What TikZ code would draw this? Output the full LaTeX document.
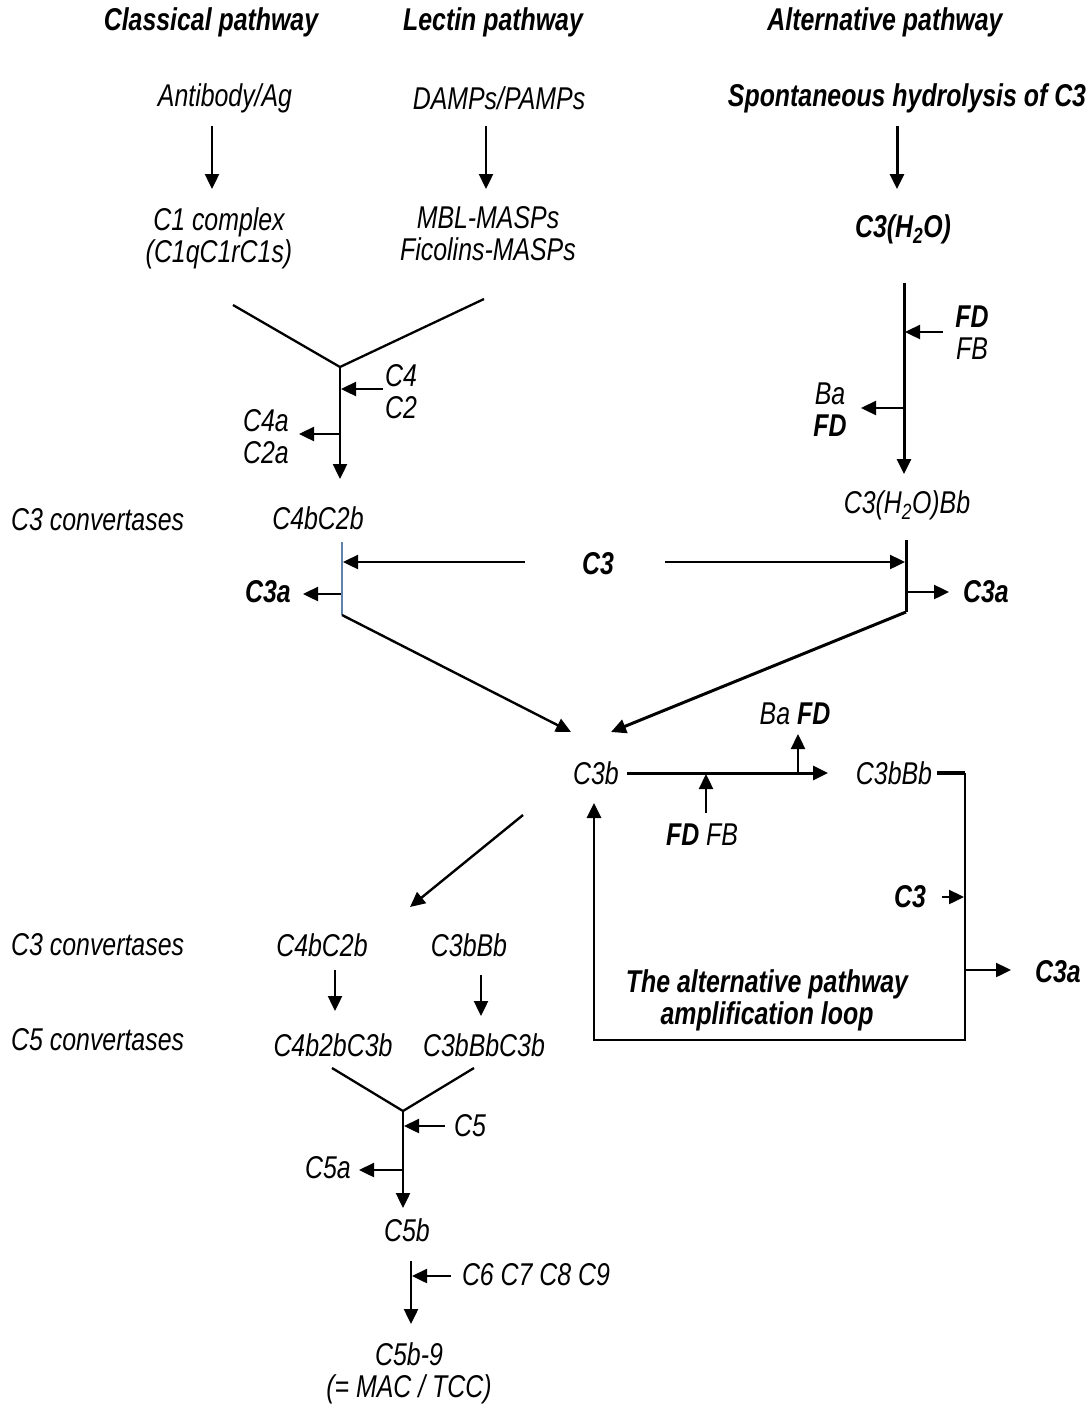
\documentclass[tikz,border=0pt]{standalone}
\usepackage{fontspec}
\setmainfont{Liberation Sans}[FakeStretch=0.79]
\usetikzlibrary{arrows.meta}
\newcommand\fsz{\fontsize{31.5}{32}\selectfont}
\begin{document}
\begin{tikzpicture}[x=1pt,y=-1pt,
  every node/.style={font=\fsz\itshape, inner sep=0pt, align=center},
  bnode/.style={font=\fsz\bfseries\itshape},
  lnode/.style={anchor=west},
  ln/.style={line width=2.3pt},
  tk/.style={line width=3pt},
  arr/.style={line width=2.4pt,-{Triangle[length=15pt,width=14pt]}},
  tarr/.style={line width=3pt,-{Triangle[length=15pt,width=14pt]}}]
\useasboundingbox (0,0) rectangle (1091,1405);
% headings
\node[bnode] (hcl) at (211,22) {Classical pathway};
\node[bnode] (hle) at (493,22) {Lectin pathway};
\node[bnode] (hal) at (885,22) {Alternative pathway};
% triggers
\node (ab) at (225,98) {Antibody/Ag};
\node (damp) at (499,98) {DAMPs/PAMPs};
\node[bnode] (spont) at (907,98) {Spontaneous hydrolysis of C3};
\node (c1) at (219,238) {C1 complex\\(C1qC1rC1s)};
\node (mbl) at (488,234) {MBL-MASPs\\Ficolins-MASPs};
\node[bnode] (c3h2o) at (903,229) {C3(H\textsubscript{2}O)};
\coordinate (a1s) at (212,126); \coordinate (a1e) at (212,189);
\coordinate (a2s) at (486,126); \coordinate (a2e) at (486,189);
\coordinate (a3s) at (897,126); \coordinate (a3e) at (897,189);
\draw[arr] (a1s) -- (a1e);
\draw[arr] (a2s) -- (a2e);
\draw[tarr] (a3s) -- (a3e);
% classical/lectin Y
\coordinate (yl) at (233,305); \coordinate (yr) at (484,299);
\coordinate (yj) at (340,367); \coordinate (yb) at (340,479);
\draw[ln] (yl) -- (yj) -- (yr);
\draw[arr] (yj) -- (yb);
\node (c4c2) at (401,392) {C4\\C2};
\coordinate (c4s) at (383,389); \coordinate (c4e) at (341,389);
\draw[arr] (c4s) -- (c4e);
\node (c4a) at (266,437) {C4a\\C2a};
\coordinate (c4as) at (340,434); \coordinate (c4ae) at (299,434);
\draw[arr] (c4as) -- (c4ae);
\node (c4bc2b) at (318,518) {C4bC2b};
\node[lnode] (conv1) at (11,520) {C3 convertases};
% C3 cleavage
\coordinate (bl1) at (342,542); \coordinate (bl2) at (342,615);
\draw[line width=1.8pt, draw={rgb,255:red,95;green,130;blue,170}] (bl1) -- (bl2);
\node[bnode] (c3m) at (598,564) {C3};
\coordinate (c3ml) at (525,562); \coordinate (c3mle) at (343,562);
\draw[arr] (c3ml) -- (c3mle);
\node[bnode] (c3aL) at (268,592) {C3a};
\coordinate (c3aLs) at (341,594); \coordinate (c3aLe) at (303,594);
\draw[arr] (c3aLs) -- (c3aLe);
\coordinate (c3mr) at (665,562); \coordinate (c3mre) at (905,562);
\draw[arr] (c3mr) -- (c3mre);
% alternative vertical
\coordinate (av1) at (904,283); \coordinate (av2) at (904,474);
\draw[tarr] (av1) -- (av2);
\node (fdfb) at (972,333) {\textbf{FD}\\FB};
\coordinate (fds) at (943,332); \coordinate (fde) at (905,332);
\draw[arr] (fds) -- (fde);
\node (bafd) at (830,410) {Ba\\\textbf{FD}};
\coordinate (bas) at (903,408); \coordinate (bae) at (861,408);
\draw[arr] (bas) -- (bae);
\node (c3h2obb) at (907,505) {C3(H\textsubscript{2}O)Bb};
\coordinate (rv1) at (906,540); \coordinate (rv2) at (906,612);
\draw[tk] (rv1) -- (rv2);
\node[bnode] (c3aR) at (986,592) {C3a};
\coordinate (c3aRs) at (907,592); \coordinate (c3aRe) at (949,592);
\draw[arr] (c3aRs) -- (c3aRe);
% C3b
\node (c3b) at (596,773) {C3b};
\coordinate (dlt) at (571,732); \coordinate (drt) at (611,732);
\draw[arr] (bl2) -- (dlt);
\draw[tarr] (rv2) -- (drt);
% amplification loop
\node (c3bbb) at (894,773) {C3bBb};
\coordinate (h1) at (627,773); \coordinate (h2) at (828,773);
\draw[tarr] (h1) -- (h2);
\node (bafd2) at (795,714) {Ba \textbf{FD}};
\coordinate (u1) at (798,773); \coordinate (u1e) at (798,734);
\draw[arr] (u1) -- (u1e);
\node (fdfb2) at (702,835) {\textbf{FD} FB};
\coordinate (u2) at (706,813); \coordinate (u2e) at (706,774);
\draw[arr] (u2) -- (u2e);
\coordinate (lp0) at (937,773); \coordinate (lp1) at (965,773);
\coordinate (lp2) at (965,1040); \coordinate (lp3) at (594,1040);
\coordinate (lp4) at (594,803);
\draw[line width=4.5pt] (lp0) -- (lp1);
\draw[line width=2.8pt,-{Triangle[length=15pt,width=14pt]}] (lp1) -- (lp2) -- (lp3) -- (lp4);
\node[bnode] (c3L) at (910,897) {C3};
\coordinate (c3Ls) at (942,897); \coordinate (c3Le) at (964,897);
\draw[arr] (c3Ls) -- (c3Le);
\node[bnode] (c3aL2) at (1058,972) {C3a};
\coordinate (c3aL2s) at (966,970); \coordinate (c3aL2e) at (1011,970);
\draw[arr] (c3aL2s) -- (c3aL2e);
\node[bnode] (loop) at (767,1000) {The alternative pathway\\amplification loop};
% C5 part
\coordinate (d1) at (523,815); \coordinate (d1e) at (410,907);
\draw[arr] (d1) -- (d1e);
\node[lnode] (conv2) at (11,945) {C3 convertases};
\node (c4bc2b2) at (322,945) {C4bC2b};
\node (c3bbb2) at (469,945) {C3bBb};
\coordinate (v1) at (335,970); \coordinate (v1e) at (335,1011);
\coordinate (v2) at (481,975); \coordinate (v2e) at (481,1016);
\draw[arr] (v1) -- (v1e);
\draw[arr] (v2) -- (v2e);
\node[lnode] (conv3) at (11,1040) {C5 convertases};
\node (c5c1) at (333,1045) {C4b2bC3b};
\node (c5c2) at (484,1045) {C3bBbC3b};
\coordinate (zl) at (332,1068); \coordinate (zr) at (474,1068);
\coordinate (zj) at (403,1111); \coordinate (zb) at (403,1208);
\draw[ln] (zl) -- (zj) -- (zr);
\draw[arr] (zj) -- (zb);
\node (c5) at (470,1126) {C5};
\coordinate (c5s) at (445,1126); \coordinate (c5e) at (404,1126);
\draw[arr] (c5s) -- (c5e);
\node (c5a) at (328,1168) {C5a};
\coordinate (c5as) at (402,1170); \coordinate (c5ae) at (359,1170);
\draw[arr] (c5as) -- (c5ae);
\node (c5b) at (407,1230) {C5b};
\coordinate (w1) at (411,1261); \coordinate (w1e) at (411,1324);
\draw[arr] (w1) -- (w1e);
\node (c6) at (536,1275) {C6 C7 C8 C9};
\coordinate (c6s) at (451,1276); \coordinate (c6e) at (412,1276);
\draw[arr] (c6s) -- (c6e);
\node (mac) at (409,1373) {C5b-9\\(= MAC / TCC)};
\end{tikzpicture}
\end{document}
